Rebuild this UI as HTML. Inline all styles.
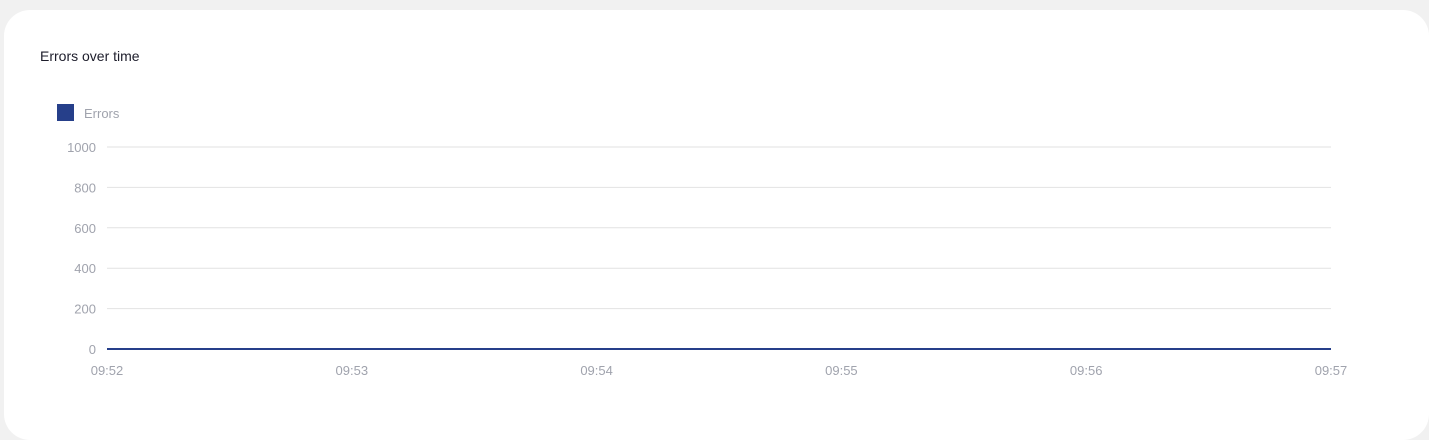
<!DOCTYPE html>
<html><head><meta charset="utf-8"><style>
body{margin:0;width:1429px;height:440px;background:#f1f1f1;overflow:hidden;font-family:"Liberation Sans",sans-serif}
.card{position:absolute;left:4px;top:10px;width:1425px;height:430px;background:#fff;border-radius:26px}
.title{position:absolute;left:40px;top:48px;font-size:14px;color:#1d1d2b}
</style></head><body>
<div class="card"></div>
<div class="title">Errors over time</div>
<svg id="c" width="1429" height="440" style="position:absolute;left:0;top:0"></svg>
<script>
const xLabels=["09:52","09:53","09:54","09:55","09:56","09:57"];
const yTicks=[0,200,400,600,800,1000];
const errors=[0,0,0,0,0,0];
const ns="http://www.w3.org/2000/svg",svg=document.getElementById('c');
const x0=107,x1=1331,y0=349,y1=147;
const xs=i=>x0+(x1-x0)*i/(xLabels.length-1);
const ys=v=>y0-(y0-y1)*v/1000;
function mk(t,a,txt){const e=document.createElementNS(ns,t);for(const k in a)e.setAttribute(k,a[k]);if(txt!=null)e.textContent=txt;svg.appendChild(e);return e;}
let e=mk('rect',{x:57,y:104,width:17,height:17,fill:'#263f8a'});


e=mk('text',{x:84,y:118,'font-size':13,fill:'#a0a3ad'},'Errors');


yTicks.forEach(v=>{
 if(v>0){const g=mk('line',{x1:x0,x2:x1,y1:ys(v),y2:ys(v),stroke:'#e2e2e2','stroke-width':1});
 
 }
 const t=mk('text',{x:96,y:ys(v)+5,'font-size':13,fill:'#a0a3ad','text-anchor':'end'},v);
 
 
});
xLabels.forEach((l,i)=>{
 const t=mk('text',{x:xs(i),y:375,'font-size':13,fill:'#a0a3ad','text-anchor':'middle'},l);
 
 
});
const p=mk('polyline',{points:errors.map((v,i)=>xs(i)+','+ys(v)).join(' '),fill:'none',stroke:'#263f8a','stroke-width':2});


</script>
</body></html>
